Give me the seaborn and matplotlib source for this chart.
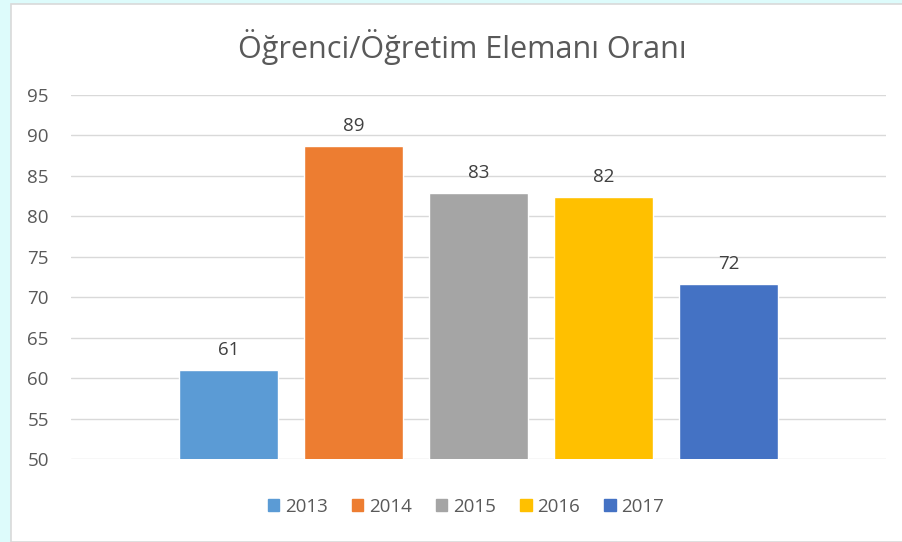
import matplotlib
matplotlib.use("Agg")
import matplotlib.pyplot as plt
import matplotlib.patches as mpatches
import seaborn as sns
import pandas as pd

years = ["2013", "2014", "2015", "2016", "2017"]
ratios = [61.0, 88.7, 82.9, 82.4, 71.6]
labels = ["61", "89", "83", "82", "72"]
colors = ["#5B9BD5", "#ED7D31", "#A5A5A5", "#FFC000", "#4472C4"]

df = pd.DataFrame({"year": years, "ratio": ratios})

sns.set_theme(style="white")
plt.rcParams["font.family"] = ["Open Sans", "DejaVu Sans"]

fig = plt.figure(figsize=(9.02, 5.42), dpi=100, facecolor="#DDFBFB")
# white chart area with light border
fig.patches.append(mpatches.Rectangle((11 / 902, 0), 1, 1 - 4 / 542, transform=fig.transFigure,
                                      facecolor="white", edgecolor="#D9D9D9", linewidth=1.2, zorder=-5))

ax = fig.add_axes([71 / 902, 1 - 459 / 542, 815 / 902, 364 / 542])
ax.set_zorder(2)
ax.set_facecolor("none")

sns.barplot(data=df, x="year", y="ratio", hue="year", palette=colors, width=0.79,
            dodge=False, legend=False, saturation=1, ax=ax, zorder=3)

ax.set_xlim(-1.26, 5.26)
ax.set_ylim(50, 95)
ax.set_yticks(range(50, 96, 5))
ax.set_xticks([])
ax.set_xlabel("")
ax.set_ylabel("")
ax.grid(axis="y", color="#D9D9D9", linewidth=1)
ax.set_axisbelow(True)
for s in ax.spines.values():
    s.set_visible(False)
ax.tick_params(axis="y", length=0, pad=16, labelsize=13.5, labelcolor="#595959")

for i, (v, t) in enumerate(zip(ratios, labels)):
    ax.annotate(t, (i, v), xytext=(0, 8), textcoords="offset points",
                ha="center", va="bottom", fontsize=13.5, color="#404040")

fig.text(462 / 902, 1 - 47 / 542, "Öğrenci/Öğretim Elemanı Oranı", ha="center", va="center",
         fontsize=22, color="#595959")

handles = [mpatches.Patch(color=c, label=y) for c, y in zip(colors, years)]
fig.legend(handles=handles, loc="center", bbox_to_anchor=(466 / 902, 1 - 507 / 542), ncol=5,
           frameon=False, fontsize=13.5, labelcolor="#595959", handlelength=0.6, handleheight=0.6,
           handletextpad=0.3, columnspacing=1.3)

fig.savefig("out.png", dpi=100, facecolor=fig.get_facecolor())
